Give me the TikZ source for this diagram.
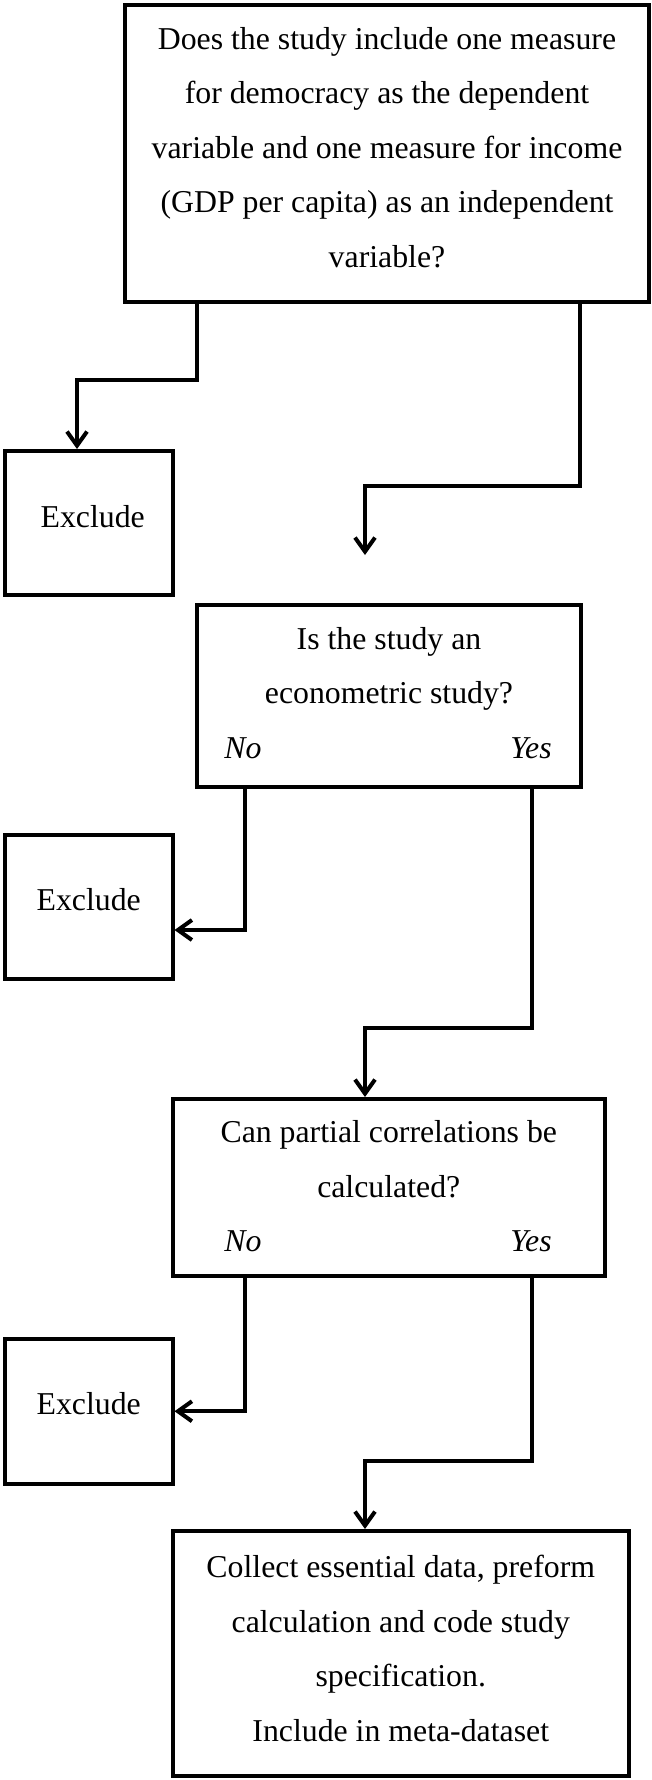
\documentclass[tikz,border=0pt]{standalone}
\usepackage{fontspec}
\setmainfont{Liberation Serif}
\usetikzlibrary{arrows.meta}
\newcommand{\topr}{\rule{0pt}{30pt}}
\newcommand{\botr}[1]{\rule[-#1pt]{0pt}{#1pt}}
\tikzset{
  box/.style={draw=black, line width=4pt, rectangle, inner sep=0pt, align=center,
    font=\fontsize{31.8}{54.5}\selectfont},
  lab/.style={inner sep=0pt, font=\fontsize{31.8}{54.5}\selectfont\itshape},
  conn/.style={line width=4pt, line join=miter},
  arr/.style={conn, -{Straight Barb[length=14pt,width=20pt]}}
}
\begin{document}
\begin{tikzpicture}[x=1pt,y=-1pt]
\useasboundingbox (0,0) rectangle (652,1780);
% boxes
\node[box, minimum width=524pt, minimum height=297pt] (q1) at (387,153.5)
  {\topr Does the study include one measure\\for democracy as the dependent\\variable and one measure for income\\(GDP per capita) as an independent\\variable?\botr{21}};
\node[box, minimum width=167.5pt, minimum height=144pt] (ex1) at (88.75,523) {\topr\hspace{8pt}Exclude\botr{22}};
\node[box, minimum width=384pt, minimum height=182pt] (q2) at (389,696)
  {\topr Is the study an\\econometric study?\\\botr{15}};
\node[box, minimum width=167.5pt, minimum height=144.5pt] (ex2) at (88.75,906.75) {\topr Exclude\botr{22}};
\node[box, minimum width=432.5pt, minimum height=177pt] (q3) at (388.75,1187.5)
  {\topr Can partial correlations be\\calculated?\\\botr{11}};
\node[box, minimum width=167.5pt, minimum height=144.5pt] (ex3) at (88.75,1411.25) {\topr Exclude\botr{23}};
\node[box, minimum width=456.5pt, minimum height=245pt] (q4) at (400.75,1653.5)
  {\topr Collect essential data, preform\\calculation and code study\\specification.\\Include in meta-dataset\botr{18}};
% labels
\node[lab] (no1) at (243,748) {No};
\node[lab] (yes1) at (531,748) {Yes};
\node[lab] (no2) at (243,1241) {No};
\node[lab] (yes2) at (531,1241) {Yes};
% connectors
\coordinate (c2end) at (365,555);
\draw[arr] ([xshift=-190pt]q1.south) -- ++(0,76) -| ([xshift=-11.75pt]ex1.north);
\draw[arr] ([xshift=193pt]q1.south) -- ++(0,182) -| (c2end);
\draw[arr] ([xshift=-144.5pt]q2.south) |- ([yshift=-23.25pt]ex2.east);
\draw[arr] ([xshift=143pt]q2.south) -- ++(0,239) -| ([xshift=-23.75pt]q3.north);
\draw[arr] ([xshift=-144.25pt]q3.south) |- (ex3.east);
\draw[arr] ([xshift=143.25pt]q3.south) -- ++(0,183) -| ([xshift=-35.75pt]q4.north);
\end{tikzpicture}
\end{document}
